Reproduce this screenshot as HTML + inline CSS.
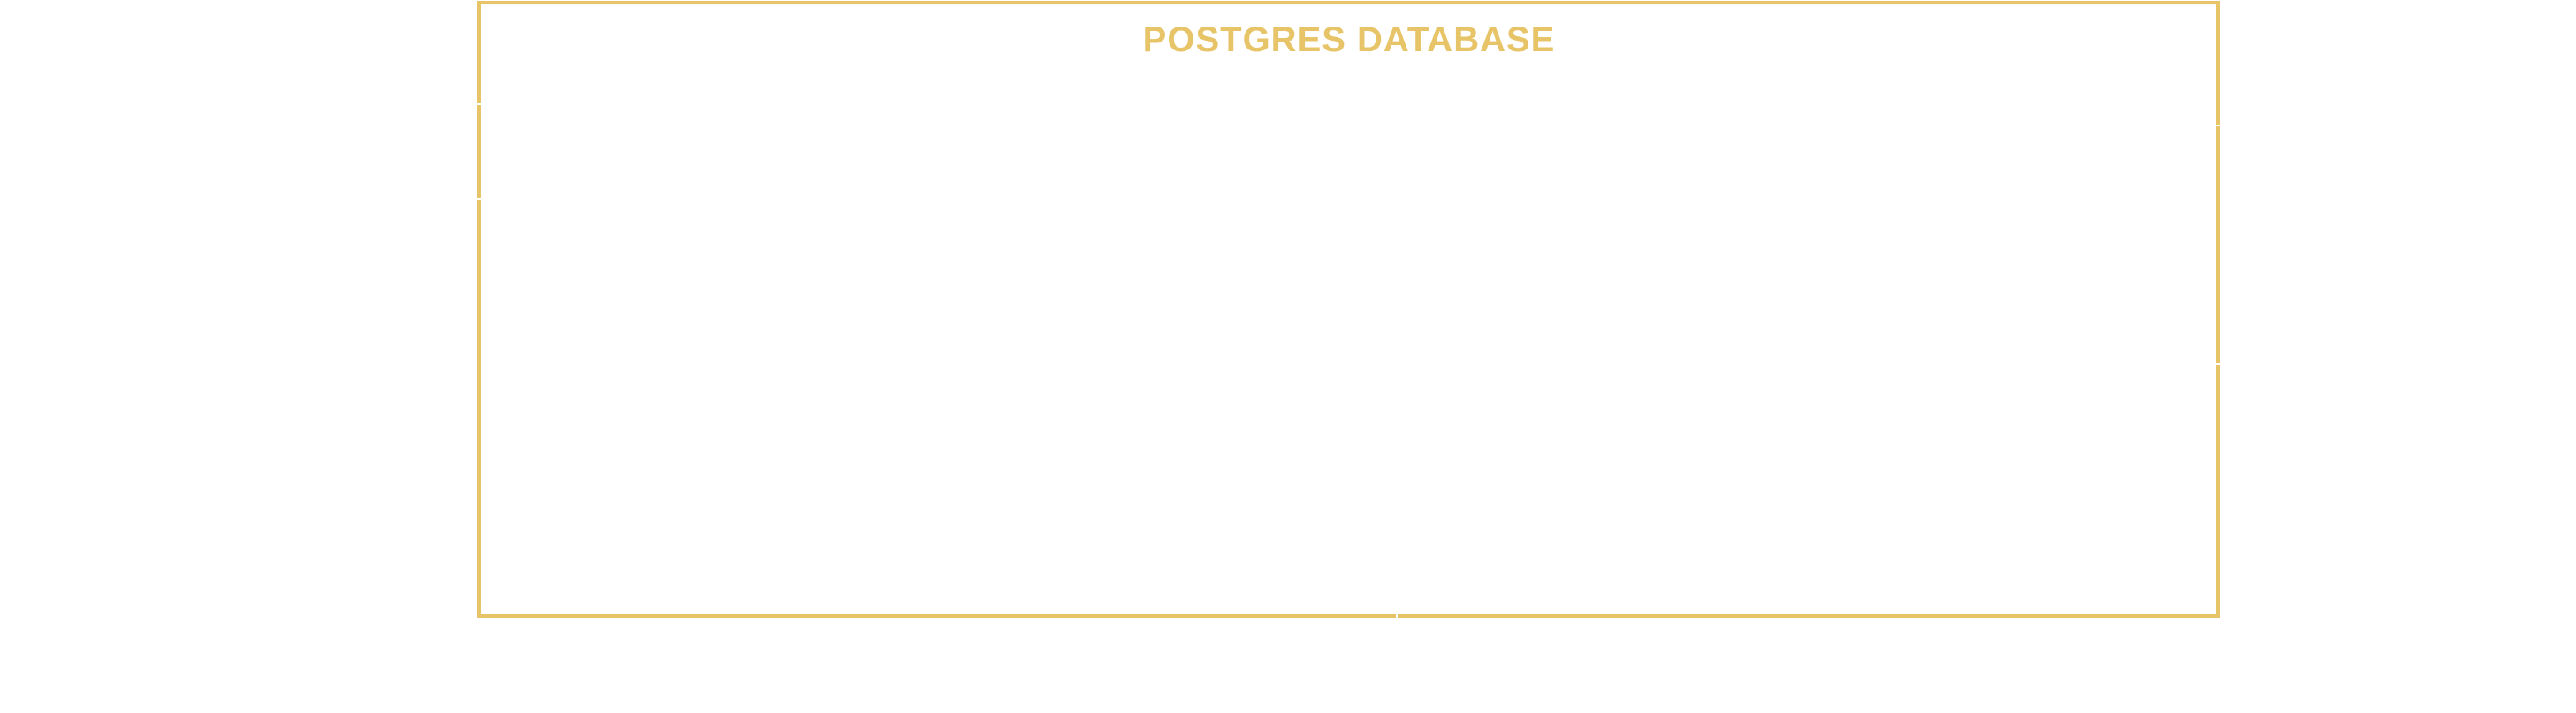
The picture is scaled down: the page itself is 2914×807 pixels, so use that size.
<!DOCTYPE html>
<html><head><style>
html,body{margin:0;padding:0;background:#fff;}
body{width:2914px;height:807px;position:relative;overflow:hidden;}
.b{position:absolute;background:#E8C468;}
.g{position:absolute;background:#fff;}
.t{position:absolute;left:1226px;top:25px;width:600px;text-align:center;font-family:"Liberation Sans",sans-serif;font-weight:bold;font-size:40px;line-height:41px;color:#E8C468;letter-spacing:1px;white-space:nowrap;}
</style></head><body>
<div class="b" style="left:540px;top:1px;width:1971px;height:4px"></div>
<div class="b" style="left:540px;top:695px;width:1971px;height:4px"></div>
<div class="b" style="left:540px;top:1px;width:4px;height:698px"></div>
<div class="b" style="left:2507px;top:1px;width:4px;height:698px"></div>
<div class="g" style="left:539px;top:117px;width:6px;height:2px"></div>
<div class="g" style="left:539px;top:224px;width:6px;height:2px"></div>
<div class="g" style="left:2506px;top:141px;width:6px;height:2px"></div>
<div class="g" style="left:2506px;top:411px;width:6px;height:2px"></div>
<div class="g" style="left:1579px;top:694px;width:2px;height:6px"></div>
<div class="t">POSTGRES DATABASE</div>
</body></html>
